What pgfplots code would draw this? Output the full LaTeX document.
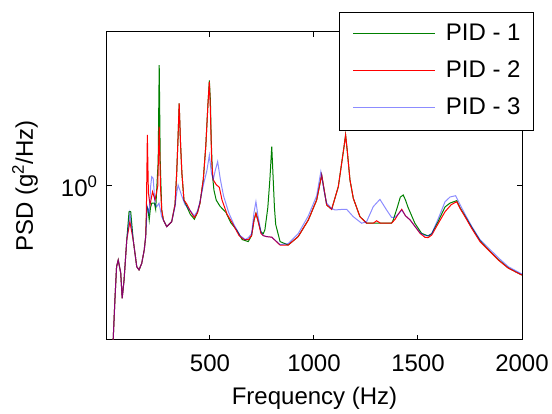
\documentclass[border=0pt]{standalone}
\usepackage{fontspec}
\setmainfont{Liberation Sans}
\usepackage{pgfplots}
\pgfplotsset{compat=1.18}
\definecolor{pidgreen}{rgb}{0,0.5,0}
\definecolor{pidred}{rgb}{1,0,0}
\newcommand\bigfont{\fontsize{24}{29}\selectfont}

\begin{document}
\begin{tikzpicture}
\path[use as bounding box] (0,0) rectangle (552pt,414pt);
\begin{axis}[
    at={(107pt,74pt)}, anchor=south west,
    scale only axis, width=415pt, height=308pt,
    xmin=5, xmax=2000,
    ymode=log, ymin=0.3162, ymax=3.162,
    xtick={500,1000,1500,2000}, xticklabels={500,1000,1500,2000},
    ytick={1}, yticklabels={10\textsuperscript{0}},
    yminorticks=false, xminorticks=false,
    tick align=inside, major tick length=5pt,
    axis line style={line width=1pt},
    every tick/.style={black, line width=1pt},
    tick label style={font=\bigfont},
    xticklabel style={anchor=base, yshift=-32pt},
    yticklabel style={anchor=east, xshift=-6pt},
    xlabel={Frequency (Hz)},
    xlabel style={font=\bigfont, at={(axis description cs:0.5,-0.211)}, anchor=base},
    ylabel={PSD (g\textsuperscript{2}/Hz)},
    ylabel style={font=\bigfont, at={(axis description cs:-0.1976,0.5)}, anchor=center},
    legend style={font=\bigfont, at={(1.029,1.065)}, anchor=north east,
        draw=black, line width=1pt, fill=white,
        inner xsep=13pt, inner ysep=10.5pt, row sep=14pt,
        nodes={inner sep=0pt, text height=18pt, text depth=5pt},
        /tikz/every odd column/.append style={column sep=10pt}},
    legend cell align=left,
    legend image code/.code={\draw[#1, line width=1.3pt] (0pt,1pt) -- (82pt,1pt);},
]

% PID - 1
\addplot[pidgreen, line width=1pt] coordinates {
(30,0.28)(35,0.32)(43,0.426)(51,0.547)(59,0.575)(71,0.522)(78,0.432)(87,0.495)(100,0.668)
(111,0.825)(119,0.825)(131,0.668)(148,0.547)(159,0.534)(172,0.561)(184,0.620)(191,0.685)
(196,0.86)(202,0.84)(208,0.776)(214,0.85)(220,0.879)(233,0.879)(239,0.840)(251,1.2)(256,2.47)
(261,1.2)(268,0.836)(276,0.776)(292,0.738)(316,0.766)(332,0.87)(340,1.1)(346,1.4)(352,1.856)
(358,1.4)(365,1.1)(375,0.90)(388,0.86)(405,0.81)(425,0.78)(440,0.82)(452,0.88)(468,1.05)
(480,1.35)(490,1.83)(497,2.2)(502,1.9)(506,1.41)(512,1.086)(519,0.97)(530,0.9)(548,0.86)
(577,0.82)(600,0.76)(628,0.72)(655,0.67)(684,0.66)(700,0.69)(712,0.776)(721,0.815)(730,0.776)
(745,0.71)(756,0.70)(764,0.72)(778,0.85)(788,1.05)(797,1.342)(804,1.05)(810,0.85)(816,0.75)
(837,0.66)(876,0.643)(924,0.685)(973,0.776)(1013,0.901)(1037,1.086)(1061,0.868)(1085,0.840)
(1117,0.995)(1133,1.185)(1145,1.35)(1152,1.464)(1160,1.3)(1173,1.046)(1189,0.912)(1221,0.795)
(1253,0.757)(1373,0.757)(1381,0.776)(1400,0.85)(1415,0.92)(1429,0.935)(1440,0.90)(1452,0.853)
(1485,0.757)(1517,0.702)(1549,0.688)(1566,0.70)(1598,0.77)(1630,0.855)(1654,0.88)(1686,0.896)
(1702,0.85)(1726,0.80)(1758,0.735)(1798,0.665)(1838,0.622)(1886,0.577)(1934,0.542)(1999,0.514)
};

% PID - 2
\addplot[pidred, line width=1pt] coordinates {
(30,0.28)(35,0.32)(43,0.426)(51,0.547)(59,0.575)(71,0.522)(78,0.432)(87,0.495)(100,0.668)
(115,0.766)(131,0.668)(148,0.547)(159,0.534)(172,0.561)(184,0.620)(191,0.685)(194,0.80)
(199,1.464)(204,0.95)(212,0.868)(224,0.958)(236,0.90)(249,1.0)(256,1.558)(262,1.0)(268,0.836)
(276,0.776)(292,0.738)(316,0.766)(332,0.87)(340,1.1)(346,1.4)(352,1.856)(358,1.4)(365,1.1)
(375,0.90)(388,0.875)(405,0.83)(425,0.79)(440,0.82)(452,0.88)(468,1.05)(480,1.35)(490,1.83)
(497,2.18)(502,1.765)(508,1.214)(515,1.05)(530,1.01)(545,0.99)(558,0.90)(582,0.81)(608,0.757)
(640,0.69)(665,0.67)(685,0.67)(700,0.69)(712,0.776)(721,0.815)(730,0.776)(745,0.702)(756,0.69)
(772,0.685)(797,0.682)(837,0.643)(876,0.643)(924,0.685)(973,0.776)(1013,0.901)(1037,1.086)
(1061,0.868)(1085,0.840)(1117,0.995)(1133,1.185)(1145,1.35)(1152,1.464)(1160,1.3)(1173,1.046)
(1189,0.912)(1221,0.795)(1253,0.757)(1285,0.757)(1301,0.771)(1320,0.757)(1373,0.757)(1390,0.78)
(1405,0.81)(1422,0.840)(1440,0.80)(1462,0.776)(1485,0.74)(1510,0.702)(1534,0.681)(1549,0.68)
(1566,0.693)(1598,0.757)(1630,0.825)(1660,0.87)(1686,0.889)(1702,0.846)(1726,0.795)(1758,0.729)
(1798,0.66)(1838,0.620)(1886,0.575)(1934,0.541)(1999,0.514)
};

% PID - 3
\addplot[blue, draw opacity=0.45, line width=1pt] coordinates {
(30,0.28)(35,0.32)(43,0.426)(51,0.547)(59,0.575)(71,0.522)(78,0.432)(87,0.495)(100,0.668)
(115,0.815)(131,0.668)(148,0.547)(159,0.534)(172,0.561)(184,0.620)(191,0.685)(199,0.857)
(208,0.815)(215,1.0)(220,1.072)(227,1.059)(233,0.93)(236,0.868)(244,0.857)(255,0.879)(268,0.795)
(292,0.738)(316,0.766)(332,0.857)(340,0.95)(347,1.007)(355,0.97)(364,0.93)(380,0.87)(400,0.84)
(425,0.80)(440,0.83)(452,0.89)(470,1.02)(485,1.12)(497,1.26)(507,1.1)(516,1.05)(525,1.12)
(537,1.20)(550,1.05)(565,0.93)(590,0.82)(615,0.75)(645,0.69)(670,0.67)(685,0.68)(700,0.70)
(712,0.823)(721,0.889)(730,0.805)(745,0.71)(756,0.69)(772,0.685)(797,0.682)(837,0.645)(876,0.65)
(924,0.70)(973,0.80)(1013,0.93)(1033,1.113)(1050,0.95)(1061,0.88)(1085,0.845)(1101,0.836)
(1141,0.84)(1157,0.84)(1189,0.795)(1229,0.757)(1253,0.766)(1285,0.857)(1317,0.905)(1349,0.836)
(1373,0.791)(1389,0.791)(1405,0.81)(1422,0.835)(1440,0.80)(1462,0.776)(1485,0.74)(1510,0.705)
(1534,0.69)(1549,0.69)(1566,0.70)(1598,0.785)(1630,0.889)(1654,0.921)(1681,0.930)(1702,0.87)
(1726,0.81)(1758,0.74)(1798,0.67)(1838,0.63)(1886,0.585)(1934,0.547)(1999,0.518)
};

\legend{PID - 1, PID - 2, PID - 3}
\end{axis}
\end{tikzpicture}
\end{document}
